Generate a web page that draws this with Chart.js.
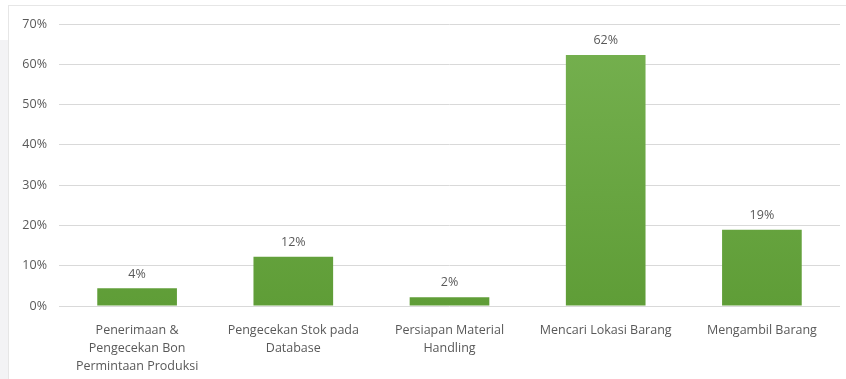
<!DOCTYPE html>
<html>
<head>
<meta charset="utf-8">
<script src="https://cdn.jsdelivr.net/npm/chart.js@4"></script>
<style>
  html, body { margin: 0; padding: 0; background: #fff; }
  #wrap { position: relative; width: 846px; height: 379px; }
  #frame { position: absolute; left: 8px; top: 5px; right: 0; bottom: 0; border-top: 1px solid #e6e6e6; border-left: 1px solid #e6e6e6; }
  #strip { position: absolute; left: 0; top: 40px; width: 8px; bottom: 0; background: #f3f3f5; }
  canvas { position: absolute; left: 0; top: 0; }
</style>
</head>
<body>
<div id="wrap">
  <div id="strip"></div>
  <div id="frame"></div>
  <canvas id="chart" width="846" height="379"></canvas>
</div>
<script>
// data
const categories = [
  ['Penerimaan &', 'Pengecekan Bon', 'Permintaan Produksi'],
  ['Pengecekan Stok pada', 'Database'],
  ['Persiapan Material', 'Handling'],
  ['Mencari Lokasi Barang'],
  ['Mengambil Barang']
];
const percentages = [4.4, 12.2, 2.2, 62.3, 18.9];
const yTicks = [0, 10, 20, 30, 40, 50, 60, 70];

const labelFont = "'Open Sans', sans-serif";

// simple value labels above bars (no datalabels plugin available)
const valueLabels = {
  id: 'valueLabels',
  afterDatasetsDraw(chart) {
    const ctx = chart.ctx;
    const meta = chart.getDatasetMeta(0);
    ctx.save();
    ctx.font = '12.5px ' + labelFont;
    ctx.fillStyle = '#595959';
    ctx.textAlign = 'center';
    ctx.textBaseline = 'bottom';
    meta.data.forEach((bar, i) => {
      ctx.fillText(Math.round(percentages[i]) + '%', bar.x, bar.y - 8);
    });
    ctx.restore();
  }
};

function barGradient(context) {
  const chart = context.chart;
  const area = chart.chartArea;
  if (!area) return '#6aa842';
  const el = context.element;
  const top = el && el.y !== undefined ? el.y : area.top;
  const g = chart.ctx.createLinearGradient(0, top, 0, area.bottom);
  g.addColorStop(0, '#76b150');
  g.addColorStop(1, '#5f9d37');
  return g;
}

new Chart(document.getElementById('chart').getContext('2d'), {
  type: 'bar',
  data: {
    labels: categories,
    datasets: [{
      data: percentages,
      backgroundColor: barGradient,
      borderWidth: 0,
      categoryPercentage: 1,
      barPercentage: 0.51
    }]
  },
  options: {
    responsive: false,
    animation: false,
    layout: { padding: { top: 24, right: 6, bottom: 0, left: 0 } },
    plugins: { legend: { display: false }, tooltip: { enabled: false } },
    scales: {
      x: {
        grid: { display: false },
        border: { display: false },
        ticks: {
          color: '#595959',
          font: { family: labelFont, size: 12.5, lineHeight: 1.45 },
          padding: 7,
          maxRotation: 0,
          autoSkip: false
        },
        afterFit: (axis) => { axis.height = 73; }
      },
      y: {
        min: 0,
        max: 70,
        afterBuildTicks: (axis) => { axis.ticks = yTicks.map(v => ({ value: v })); },
        grid: { color: '#d9d9d9', lineWidth: 1, drawTicks: false },
        border: { display: false },
        ticks: {
          color: '#595959',
          font: { family: labelFont, size: 12.5 },
          padding: 12,
          callback: (v) => v + '%'
        },
        afterFit: (axis) => { axis.width = 59; }
      }
    }
  },
  plugins: [valueLabels]
});
</script>
</body>
</html>
